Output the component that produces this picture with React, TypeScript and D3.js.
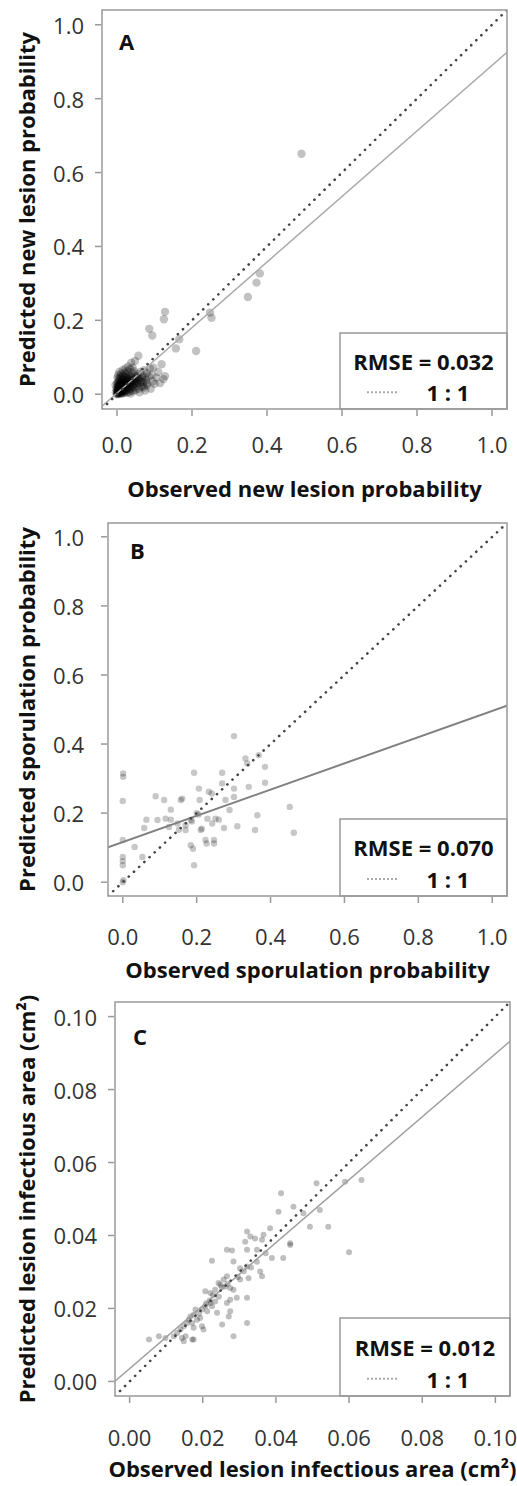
import React from "react";
import * as d3 from "d3";

// ---------- DATA ----------
// Panel A: observed vs predicted new lesion probability
const pointsA: [number, number][] = [
  [0.492, 0.651], [0.381, 0.327], [0.372, 0.302], [0.349, 0.263], [0.248, 0.221], [0.252, 0.207],
  [0.128, 0.223], [0.125, 0.203], [0.086, 0.177], [0.094, 0.159], [0.166, 0.149], [0.157, 0.124],
  [0.211, 0.117], [0.057, 0.104], [0.119, 0.081], [0.128, 0.049], [0.124, 0.041], [0.097, 0.072],
  [0.07, 0.022], [0.08, 0.03], [0.105, 0.045], [0.11, 0.06], [0.115, 0.03], [0.06, 0.005],
  [0.075, 0.01], [0.09, 0.015],
  [0.0, 0.0], [0.002, 0.004], [0.004, 0.002], [0.005, 0.008], [0.007, 0.012], [0.003, 0.015],
  [0.008, 0.005], [0.01, 0.01], [0.012, 0.003], [0.01, 0.018], [0.013, 0.014], [0.015, 0.007],
  [0.016, 0.02], [0.018, 0.012], [0.02, 0.025], [0.02, 0.004], [0.022, 0.016], [0.024, 0.03],
  [0.025, 0.01], [0.027, 0.022], [0.028, 0.035], [0.03, 0.015], [0.031, 0.028], [0.033, 0.04],
  [0.034, 0.02], [0.036, 0.032], [0.038, 0.01], [0.04, 0.045], [0.041, 0.025], [0.043, 0.036],
  [0.045, 0.018], [0.047, 0.05], [0.048, 0.03], [0.05, 0.042], [0.052, 0.022], [0.055, 0.055],
  [0.056, 0.035], [0.058, 0.045], [0.06, 0.028], [0.062, 0.06], [0.065, 0.04], [0.068, 0.05],
  [0.07, 0.032], [0.072, 0.065], [0.075, 0.045], [0.078, 0.038], [0.08, 0.058], [0.085, 0.048],
  [0.088, 0.07], [0.092, 0.052],
  [0.001, 0.02], [0.002, 0.028], [0.004, 0.035], [0.006, 0.025], [0.008, 0.04], [0.01, 0.032],
  [0.012, 0.045], [0.014, 0.038], [0.016, 0.05], [0.018, 0.03], [0.006, 0.06], [0.011, 0.055],
  [0.015, 0.065], [0.02, 0.058], [0.022, 0.07], [0.025, 0.048], [0.028, 0.062], [0.03, 0.075],
  [0.035, 0.068], [0.038, 0.085], [0.042, 0.072], [0.048, 0.09], [0.045, 0.062], [0.0, 0.01],
  [0.001, 0.045], [0.003, 0.052], [0.009, 0.002], [0.014, 0.001], [0.017, 0.006], [0.021, 0.008],
  [0.026, 0.004], [0.032, 0.006], [0.036, 0.002], [0.044, 0.008], [0.05, 0.012], [0.058, 0.015],
  [0.065, 0.02], [0.072, 0.018], [0.08, 0.025], [0.095, 0.035], [0.1, 0.028], [0.01, 0.025],
  [0.013, 0.028], [0.019, 0.022], [0.023, 0.038], [0.027, 0.044], [0.032, 0.052], [0.037, 0.048],
  [0.04, 0.058], [0.001, 0.001], [0.003, 0.006], [0.005, 0.003], [0.006, 0.01], [0.008, 0.014],
  [0.002, 0.012], [0.011, 0.007], [0.004, 0.018], [0.009, 0.022], [0.013, 0.019], [-0.003, 0.005],
  [-0.002, 0.015], [-0.004, 0.025], [0.0, 0.03],
  [0.001, 0.005], [0.002, 0.009], [0.004, 0.013], [0.005, 0.021], [0.007, 0.017], [0.009, 0.027],
  [0.011, 0.013], [0.012, 0.024], [0.014, 0.031], [0.015, 0.011], [0.017, 0.027], [0.019, 0.036],
  [0.021, 0.019], [0.023, 0.012], [0.024, 0.026], [0.026, 0.033], [0.029, 0.019], [0.03, 0.041],
  [0.033, 0.027], [0.035, 0.014], [0.037, 0.038], [0.039, 0.03], [0.042, 0.02], [0.044, 0.04],
  [0.046, 0.028], [0.049, 0.036], [0.053, 0.048], [0.054, 0.03], [0.057, 0.04], [0.063, 0.034],
  [0.067, 0.045], [0.003, 0.024], [0.007, 0.033], [0.005, 0.042], [0.009, 0.048], [0.017, 0.042],
  [0.021, 0.047], [0.024, 0.055], [0.002, 0.002], [0.006, 0.006], [0.01, 0.004], [0.016, 0.015],
];

// Panel B: observed vs predicted sporulation probability
const pointsB: [number, number][] = [
  [0.301, 0.423], [0.001, 0.315], [0.001, 0.305], [0.0, 0.235], [0.0, 0.122], [0.0, 0.073],
  [0.0, 0.061], [0.0, 0.049], [0.0, 0.0], [0.002, 0.006], [0.032, 0.102], [0.053, 0.073],
  [0.058, 0.157], [0.064, 0.181], [0.089, 0.249], [0.094, 0.18], [0.112, 0.238], [0.116, 0.184],
  [0.13, 0.21], [0.13, 0.181], [0.125, 0.16], [0.148, 0.17], [0.157, 0.238], [0.161, 0.242],
  [0.152, 0.152], [0.17, 0.165], [0.17, 0.151], [0.184, 0.107], [0.19, 0.097], [0.193, 0.049],
  [0.193, 0.317], [0.184, 0.18], [0.187, 0.176], [0.206, 0.271], [0.208, 0.238], [0.211, 0.151],
  [0.214, 0.155], [0.224, 0.122], [0.227, 0.112], [0.233, 0.262], [0.241, 0.257], [0.229, 0.184],
  [0.242, 0.17], [0.247, 0.122], [0.247, 0.112], [0.251, 0.184], [0.26, 0.181], [0.269, 0.317],
  [0.269, 0.286], [0.274, 0.157], [0.278, 0.238], [0.301, 0.271], [0.289, 0.209], [0.301, 0.247],
  [0.31, 0.162], [0.332, 0.358], [0.337, 0.344], [0.341, 0.276], [0.368, 0.368], [0.385, 0.334],
  [0.385, 0.288], [0.364, 0.194], [0.358, 0.151], [0.452, 0.218], [0.463, 0.143], [0.2, 0.2],
  [0.205, 0.196],
];

// Panel C: observed vs predicted lesion infectious area (cm²)
const pointsC: [number, number][] = [
  [0.0414, 0.0516], [0.0448, 0.0479], [0.0407, 0.0465], [0.0475, 0.0461], [0.0493, 0.0424],
  [0.0321, 0.0411], [0.033, 0.0397], [0.0316, 0.0383], [0.0343, 0.0392], [0.0362, 0.0388],
  [0.0366, 0.0402], [0.0384, 0.042], [0.0321, 0.0361], [0.0348, 0.0361], [0.0439, 0.0379],
  [0.042, 0.0338], [0.0389, 0.0338], [0.0266, 0.0361], [0.028, 0.0359], [0.0225, 0.0331],
  [0.0284, 0.0329], [0.0321, 0.0315], [0.0302, 0.031], [0.0357, 0.0301], [0.0362, 0.0288],
  [0.0325, 0.0283], [0.0302, 0.0279], [0.0266, 0.0288], [0.0257, 0.0279], [0.0243, 0.027],
  [0.0248, 0.0265], [0.0262, 0.026], [0.0275, 0.0256], [0.0284, 0.0251], [0.0234, 0.0251],
  [0.0221, 0.0242], [0.0207, 0.0247], [0.0293, 0.0229], [0.0275, 0.0224], [0.0266, 0.0215],
  [0.0321, 0.0229], [0.0234, 0.0219], [0.0221, 0.0215], [0.0225, 0.0206], [0.0207, 0.0206],
  [0.0198, 0.0197], [0.0212, 0.0192], [0.0239, 0.0188], [0.0271, 0.0178], [0.0275, 0.0192],
  [0.0321, 0.016], [0.0253, 0.0156], [0.018, 0.0197], [0.0175, 0.0183], [0.0166, 0.0178],
  [0.0162, 0.0169], [0.0157, 0.016], [0.0171, 0.016], [0.0184, 0.0169], [0.0193, 0.0174],
  [0.0175, 0.0147], [0.0198, 0.0151], [0.0202, 0.0142], [0.0148, 0.0151], [0.0139, 0.0142],
  [0.013, 0.0133], [0.0121, 0.0124], [0.0153, 0.0124], [0.0171, 0.0115], [0.0148, 0.011],
  [0.0284, 0.0124], [0.008, 0.0124], [0.0053, 0.0115], [0.06, 0.0354], [0.0634, 0.0552],
  [0.0589, 0.0547], [0.0511, 0.0543], [0.0543, 0.0424], [0.052, 0.047], [0.0439, 0.0374],
  [0.0098, 0.0119], [0.0143, 0.0119], [0.0175, 0.0115], [0.0209, 0.0214], [0.0228, 0.0236],
  [0.0252, 0.0258], [0.0268, 0.0268], [0.0296, 0.0286], [0.0312, 0.0302], [0.0332, 0.0312],
  [0.0219, 0.0222], [0.0244, 0.0232], [0.019, 0.0186], [0.0348, 0.0328], [0.0372, 0.0351],
];

// Fitted regression lines: [intercept, slope]
const fitA: [number, number] = [0.003, 0.887];
const fitB: [number, number] = [0.116, 0.38];
const fitC: [number, number] = [0.0035, 0.863];

const ticksProb = [0, 0.2, 0.4, 0.6, 0.8, 1.0];
const ticksArea = [0, 0.02, 0.04, 0.06, 0.08, 0.1];
const rmseLabels = ["RMSE = 0.032", "RMSE = 0.070", "RMSE = 0.012"];
const panelLetters = ["A", "B", "C"];
const xTitles = [
  "Observed new lesion probability",
  "Observed sporulation probability",
  "Observed lesion infectious area (cm²)",
];
const yTitles = [
  "Predicted new lesion probability",
  "Predicted sporulation probability",
  "Predicted lesion infectious area (cm²)",
];

// ---------- LAYOUT ----------
const FONT = "'Open Sans', 'DejaVu Sans', sans-serif";

type Panel = {
  pts: [number, number][];
  fit: [number, number];
  ticks: number[];
  fmt: (n: number) => string;
  domain: [number, number];
  x0: number; x1: number; y0: number; y1: number;
  tickLabY: number; titleY: number; yLabX: number; legendTop: number;
  letterX: number; letterY: number;
  r: number; op: number; fitColor: string; fitW: number;
};

const panels: Panel[] = [
  {
    pts: pointsA, fit: fitA, ticks: ticksProb, fmt: d3.format(".1f"), domain: [-0.04, 1.04],
    x0: 102, x1: 507, y0: 10, y1: 409, tickLabY: 444, titleY: 488, yLabX: 84, legendTop: 333,
    letterX: 119, letterY: 41, r: 4.2, op: 0.24, fitColor: "#aaaaaa", fitW: 1.5,
  },
  {
    pts: pointsB, fit: fitB, ticks: ticksProb, fmt: d3.format(".1f"), domain: [-0.04, 1.04],
    x0: 108, x1: 507, y0: 523, y1: 896, tickLabY: 936, titleY: 969, yLabX: 84, legendTop: 819,
    letterX: 130, letterY: 550, r: 3.2, op: 0.22, fitColor: "#808080", fitW: 2,
  },
  {
    pts: pointsC, fit: fitC, ticks: ticksArea, fmt: d3.format(".2f"), domain: [-0.004, 0.104],
    x0: 115, x1: 510, y0: 1002, y1: 1396, tickLabY: 1437, titleY: 1468, yLabX: 97, legendTop: 1318,
    letterX: 133, letterY: 1036, r: 3, op: 0.25, fitColor: "#a0a0a0", fitW: 1.5,
  },
];

function PanelView({ p, i }: { p: Panel; i: number }) {
  const x = d3.scaleLinear().domain(p.domain).range([p.x0, p.x1]);
  const y = d3.scaleLinear().domain(p.domain).range([p.y1, p.y0]);
  const [d0, d1] = p.domain;
  const line = d3.line<[number, number]>().x((d) => x(d[0])).y((d) => y(d[1]));
  const fitPts: [number, number][] = [
    [d0, p.fit[0] + p.fit[1] * d0],
    [d1, p.fit[0] + p.fit[1] * d1],
  ];
  const oneToOne: [number, number][] = [[d0, d0], [d1, d1]];
  const clipId = `clip${i}`;
  const legCx = (340 + p.x1) / 2;
  const legH = p.y1 - p.legendTop;
  return (
    <g>
      <defs>
        <clipPath id={clipId}>
          <rect x={p.x0} y={p.y0} width={p.x1 - p.x0} height={p.y1 - p.y0} />
        </clipPath>
      </defs>
      <g clipPath={`url(#${clipId})`}>
        {p.pts.map((d, k) => (
          <circle key={k} cx={x(d[0])} cy={y(d[1])} r={p.r} fill="#000" fillOpacity={p.op} />
        ))}
        <path d={line(fitPts) || ""} stroke={p.fitColor} strokeWidth={p.fitW} fill="none" />
        <path
          d={line(oneToOne) || ""}
          stroke="#444"
          strokeWidth={2.6}
          strokeDasharray="0.1 7"
          strokeLinecap="round"
          fill="none"
        />
      </g>
      {/* legend */}
      <rect x={340} y={p.legendTop} width={p.x1 - 340} height={legH} fill="#fff" stroke="#999" strokeWidth={1.5} />
      <text x={legCx} y={p.legendTop + legH * 0.37} textAnchor="middle" dominantBaseline="central"
        fontFamily={FONT} fontWeight="bold" fontSize={22} fill="#111">
        {rmseLabels[i]}
      </text>
      <line x1={367} x2={397} y1={p.legendTop + legH * 0.78} y2={p.legendTop + legH * 0.78}
        stroke="#aaa" strokeWidth={2} strokeDasharray="2 2" />
      <text x={448} y={p.legendTop + legH * 0.78} textAnchor="middle" dominantBaseline="central"
        fontFamily={FONT} fontWeight="bold" fontSize={22} fill="#111">
        1 : 1
      </text>
      {/* box */}
      <rect x={p.x0} y={p.y0} width={p.x1 - p.x0} height={p.y1 - p.y0} fill="none" stroke="#999" strokeWidth={1.5} />
      {/* ticks */}
      {p.ticks.map((t) => (
        <g key={"x" + t}>
          <line x1={x(t)} x2={x(t)} y1={p.y1 + 1} y2={p.y1 + 7} stroke="#999" strokeWidth={1.5} />
          <text x={x(t)} y={p.tickLabY} textAnchor="middle" dominantBaseline="central"
            fontFamily={FONT} fontSize={22} fill="#333">
            {p.fmt(t)}
          </text>
        </g>
      ))}
      {p.ticks.map((t) => (
        <g key={"y" + t}>
          <line x1={p.x0 - 7} x2={p.x0 - 1} y1={y(t)} y2={y(t)} stroke="#999" strokeWidth={1.5} />
          <text x={p.yLabX} y={y(t)} textAnchor="end" dominantBaseline="central"
            fontFamily={FONT} fontSize={22} fill="#333">
            {p.fmt(t)}
          </text>
        </g>
      ))}
      {/* titles */}
      <text x={(p.x0 + p.x1) / 2} y={p.titleY} textAnchor="middle" dominantBaseline="central"
        fontFamily={FONT} fontWeight="bold" fontSize={22} fill="#111">
        {xTitles[i]}
      </text>
      <text transform={`translate(26,${(p.y0 + p.y1) / 2}) rotate(-90)`} textAnchor="middle"
        dominantBaseline="central" fontFamily={FONT} fontWeight="bold" fontSize={22} fill="#111">
        {yTitles[i]}
      </text>
      <text x={p.letterX} y={p.letterY} dominantBaseline="central" fontFamily={FONT}
        fontWeight="bold" fontSize={22} fill="#111">
        {panelLetters[i]}
      </text>
    </g>
  );
}

export default function App() {
  return (
    <svg width={517} height={1486} style={{ position: "absolute", left: 0, top: 0, background: "#fff" }}>
      <rect width={517} height={1486} fill="#fff" />
      {panels.map((p, i) => (
        <PanelView key={i} p={p} i={i} />
      ))}
    </svg>
  );
}
